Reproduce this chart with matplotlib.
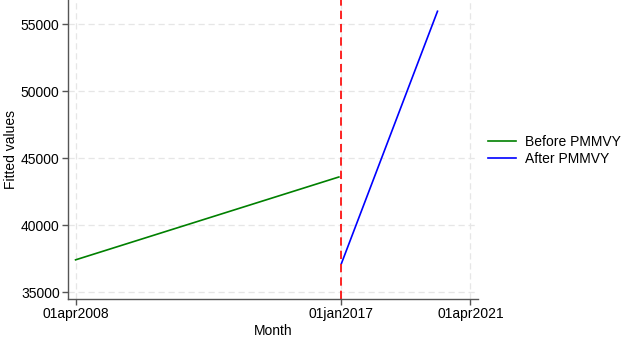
import numpy as np
import pandas as pd
import matplotlib
matplotlib.use("Agg")
import matplotlib.pyplot as plt

plt.rcParams['font.family'] = ['Liberation Sans', 'DejaVu Sans']

# fitted lines (endpoints of linear fits)
before_dates = pd.to_datetime(["2008-04-01", "2016-12-01"])
before_vals = [37420, 43600]
after_dates = pd.to_datetime(["2017-01-01", "2020-03-01"])
after_vals = [37150, 55960]

cutoff = pd.Timestamp("2017-01-01")
xticks = pd.to_datetime(["2008-04-01", "2017-01-01", "2021-04-01"])
xticklabels = ["01apr2008", "01jan2017", "01apr2021"]
yticks = [35000, 40000, 45000, 50000, 55000]

fs = 10

fig = plt.figure(figsize=(6.24, 3.42), dpi=100)
ax = fig.add_axes([68 / 624, 43 / 342, 410 / 624, 299 / 342])

ax.plot(before_dates, before_vals, color="#008000", lw=1.2, label="Before PMMVY")
ax.plot(after_dates, after_vals, color="#0000ff", lw=1.2, label="After PMMVY")
ax.axvline(cutoff, color="red", ls=(0, (5, 3)), lw=1.2)

ax.set_xlim(pd.Timestamp("2008-01-01"), pd.Timestamp("2021-07-01"))
ax.set_ylim(34500, 56800)
ax.set_xticks(xticks)
ax.set_xticklabels(xticklabels)
ax.set_yticks(yticks)
ax.grid(True, color="#e6e6e6", ls=(0, (5, 3)), lw=0.9)
ax.set_axisbelow(True)

for s in ["top", "right"]:
    ax.spines[s].set_visible(False)
for s in ["left", "bottom"]:
    ax.spines[s].set_color("#555555")
    ax.spines[s].set_linewidth(1.0)
ax.tick_params(direction="out", length=4.5, width=1, color="#555555", labelsize=fs, pad=1.5)

ax.set_xlabel("Month", fontsize=fs, labelpad=2)
ax.set_ylabel("Fitted values", fontsize=fs, labelpad=2)

fig.legend(handles=ax.get_lines()[:2], loc="center left", bbox_to_anchor=(488 / 624, 0.561),
           frameon=False, fontsize=fs, borderaxespad=0, borderpad=0,
           handlelength=2.0, handletextpad=0.65, labelspacing=0.2)

fig.savefig("out.png", dpi=100)
